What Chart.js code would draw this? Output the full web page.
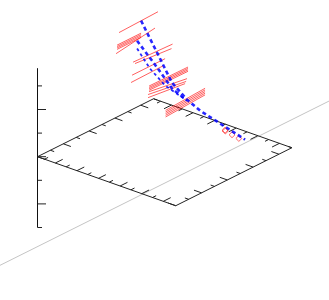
<!DOCTYPE html>
<html>
<head>
<meta charset="utf-8">
<style>
html, body { margin: 0; padding: 0; background: #fff; }
canvas { display: block; }
</style>
<script src="https://cdn.jsdelivr.net/npm/chart.js@4"></script>
</head>
<body>
<canvas id="chart" width="329" height="300"></canvas>
<script>
// axis ticks
const xTicks = [0, 1, 2, 3, 4, 5, 6, 7, 8, 9, 10, 11];
const yTicks = [0, 1, 2, 3, 4, 5, 6, 7, 8, 9];
const zTicks = [-3, -2, -1, 0, 1, 2, 3];
const xRange = [-0.65, 12.15];
const yRange = [0, 9];
const zRange = [-3, 3.75];

// red segments, all in one slice of x: [y, z] at each end
const redY0 = [-0.42, -0.57, -0.57, -0.57, -0.57, -0.65, 0.67, 0.82, 0.59, 0.51, 1.91, 1.91, 1.91, 1.91, 1.91, 1.83, 1.83, 3.19, 3.19, 3.19, 3.19, 3.19];
const redZ0 = [6.68, 6.19, 6.13, 6.07, 6.01, 5.85, 5.13, 5.03, 4.60, 4.31, 3.78, 3.72, 3.66, 3.60, 3.54, 3.44, 3.31, 2.40, 2.33, 2.26, 2.19, 2.12];
const redY1 = [2.60, 1.29, 1.29, 1.29, 1.29, 2.37, 3.73, 3.65, 3.15, 3.03, 4.93, 4.93, 4.93, 4.93, 4.85, 4.78, 4.70, 6.25, 6.25, 6.25, 6.25, 6.25];
const redZ1 = [6.74, 6.19, 6.13, 6.07, 6.01, 6.11, 5.06, 4.89, 4.60, 4.34, 3.76, 3.70, 3.64, 3.58, 3.29, 3.19, 3.12, 2.50, 2.43, 2.36, 2.29, 2.22];

// small boxes near the plane
const boxY = [7.82, 7.80, 8.34, 8.87];
const boxZ = [0.26, 0.30, -0.04, -0.34];

// blue dashed traces
const blueAY = [1.29, 1.98, 2.84, 3.69, 4.85, 5.86, 7.80, 9.35];
const blueAZ = [6.72, 5.77, 4.60, 3.43, 2.40, 1.66, 0.45, -0.52];
const blueBY = [0.98, 2.37, 3.69, 4.85];
const blueBZ = [5.95, 4.56, 3.19, 2.36];
const blueCY = [0.98, 1.98, 3.15, 4.85];
const blueCZ = [5.62, 4.50, 3.46, 2.36];

// grey reference line on the plane
const refX = 9.1;
const refY = [-11.2, 14.5];

const sliceX = 7.4;

// 3d view -> page
function project(x, y, z) {
    return {
        x: 37.5 + 10.8 * (x - xRange[0]) + 12.9 * y,
        y: 156.7 + 3.83 * (x - xRange[0]) - 6.44 * y - 23.6 * z
    };
}

// join polylines into one dataset, broken by NaN points
function joined(lines) {
    const out = [];
    lines.forEach(function (line) {
        line.forEach(function (p) { out.push(p); });
        out.push({ x: NaN, y: NaN });
    });
    return out;
}

function lineSet(lines, color, width, dash, fill) {
    return {
        data: joined(lines),
        borderColor: color,
        backgroundColor: fill || 'transparent',
        borderWidth: width,
        borderDash: dash || [],
        showLine: true,
        pointRadius: 0,
        tension: 0,
        fill: !!fill
    };
}

const frame = [[
    project(xRange[0], yRange[0], 0),
    project(xRange[1], yRange[0], 0),
    project(xRange[1], yRange[1], 0),
    project(xRange[0], yRange[1], 0),
    project(xRange[0], yRange[0], 0)
]];

const ticks = [];
xTicks.forEach(function (t) {
    const len = t % 2 ? 0.57 : 0.28;
    ticks.push([project(t, yRange[0], 0), project(t, yRange[0] + len, 0)]);
    ticks.push([project(t, yRange[1], 0), project(t, yRange[1] - len, 0)]);
});
yTicks.forEach(function (t) {
    const len = t % 2 ? 0.35 : 0.7;
    ticks.push([project(xRange[0], t, 0), project(xRange[0] + len, t, 0)]);
    ticks.push([project(xRange[1], t, 0), project(xRange[1] - len, t, 0)]);
});

const zAxis = [[project(xRange[0], 0, zRange[0]), project(xRange[0], 0, zRange[1])]];
const zTickLines = zTicks.map(function (t) {
    const p = project(xRange[0], 0, t);
    return [p, { x: p.x + (t % 2 ? 4.5 : 8.5), y: p.y }];
});

const refLine = [[project(refX, refY[0], 0), project(refX, refY[1], 0)]];

const redLines = redY0.map(function (y, i) {
    return [project(sliceX, y, redZ0[i]), project(sliceX, redY1[i], redZ1[i])];
});

const boxes = boxY.map(function (y, i) {
    const z = boxZ[i];
    return [
        project(sliceX, y - 0.23, z + 0.063),
        project(sliceX, y, z + 0.125),
        project(sliceX, y + 0.23, z - 0.063),
        project(sliceX, y, z - 0.125),
        project(sliceX, y - 0.23, z + 0.063)
    ];
});

function trace(ys, zs) {
    return ys.map(function (y, i) { return project(sliceX, y, zs[i]); });
}
const blueThick = [trace(blueAY, blueAZ), trace(blueBY, blueBZ)];
const blueThin = [trace(blueCY, blueCZ)];

new Chart(document.getElementById('chart').getContext('2d'), {
    type: 'scatter',
    data: {
        datasets: [
            lineSet(blueThick, 'rgba(0,0,255,0.85)', 2.6, [4, 3]),
            lineSet(blueThin, 'rgba(0,0,255,0.85)', 1.8, [3, 3]),
            lineSet(boxes, 'rgba(255,0,0,0.6)', 1, [], 'rgba(255,0,0,0.15)'),
            lineSet(redLines, 'rgba(255,0,0,0.7)', 0.9),
            lineSet(frame, '#222222', 1),
            lineSet(ticks, '#222222', 1),
            lineSet(zAxis, '#111111', 1),
            lineSet(zTickLines, '#222222', 1),
            lineSet(refLine, '#c4c4c4', 1)
        ]
    },
    options: {
        responsive: false,
        animation: false,
        layout: { padding: 0 },
        plugins: { legend: { display: false }, tooltip: { enabled: false } },
        scales: {
            x: { type: 'linear', display: false, min: 0, max: 329 },
            y: { type: 'linear', display: false, min: 0, max: 300, reverse: true }
        }
    }
});
</script>
</body>
</html>
